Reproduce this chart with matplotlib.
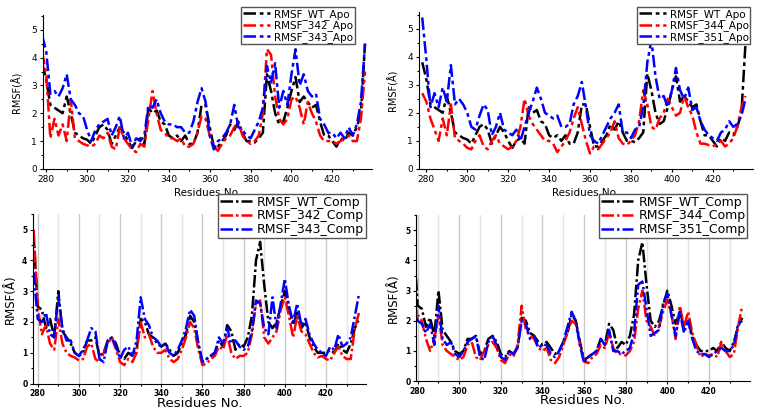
import numpy as np
import matplotlib
matplotlib.use("Agg")
import matplotlib.pyplot as plt
from matplotlib.ticker import MultipleLocator

# residue numbers (every second residue)
residues = np.arange(278, 437, 2)

wt_apo = [3.8, 3.2, 2.3, 2.2, 2.1, 2.0, 2.6, 2.0, 1.3, 1.2,
          1.1, 1.05, 0.9, 1.2, 1.5, 1.6, 1.4, 0.9, 1.2, 1.5,
          1.3, 1.0, 0.75, 1.0, 1.1, 0.9, 2.2, 2.0, 2.1, 1.7,
          1.6, 1.2, 1.1, 1.2, 1.0, 1.2, 0.9, 0.9, 1.3, 2.3,
          2.3, 1.5, 0.8, 0.8, 1.0, 1.2, 1.6, 1.4, 1.7, 1.3,
          1.0, 1.0, 0.95, 1.1, 1.3, 3.4, 2.8, 2.0, 1.6, 1.7,
          2.2, 2.8, 3.3, 2.4, 2.6, 2.4, 2.2, 2.3, 1.7, 1.2,
          1.2, 1.0, 0.8, 1.1, 1.0, 1.3, 1.2, 1.5, 2.0, 4.5]
mut342_apo = [4.2, 3.4, 1.1, 1.8, 1.2, 1.6, 1.0, 2.5, 1.1, 1.0,
              0.9, 0.85, 0.8, 0.9, 1.2, 1.1, 1.3, 0.8, 0.7, 1.5,
              1.1, 0.9, 0.7, 0.6, 0.9, 0.8, 1.8, 2.8, 2.0, 1.4,
              1.3, 1.1, 1.1, 1.0, 1.1, 0.8, 0.8, 0.9, 1.3, 1.9,
              1.8, 1.2, 0.8, 0.65, 0.9, 1.1, 1.2, 1.5, 1.7, 1.2,
              1.0, 0.9, 1.0, 1.2, 2.0, 4.3, 4.1, 2.6, 1.8, 1.6,
              1.8, 2.5, 2.6, 2.2, 1.6, 2.4, 2.0, 1.7, 1.2, 1.0,
              1.0, 1.0, 0.9, 1.0, 1.1, 1.2, 1.0, 1.0, 1.8, 3.5]
mut343_apo = [4.8, 4.2, 2.7, 2.8, 2.6, 2.9, 3.4, 2.5, 2.3, 2.0,
              1.9, 1.4, 1.0, 1.4, 1.6, 1.7, 1.8, 1.2, 1.5, 1.9,
              1.1, 1.3, 0.8, 1.1, 1.0, 1.2, 2.3, 2.2, 2.5, 2.0,
              1.7, 1.6, 1.6, 1.5, 1.5, 1.3, 1.3, 1.7, 2.4, 2.9,
              2.4, 1.2, 0.7, 1.0, 1.1, 1.3, 1.6, 2.3, 1.5, 1.4,
              1.2, 1.1, 1.4, 1.7, 2.2, 3.7, 3.1, 3.8, 2.2, 2.8,
              2.3, 3.4, 4.3, 3.0, 3.4, 2.8, 2.6, 2.7, 1.8, 1.6,
              1.3, 1.3, 1.1, 1.3, 1.1, 1.5, 1.2, 1.6, 2.4, 4.5]
mut344_apo = [2.7, 2.4, 1.8, 1.4, 1.0, 1.8, 1.2, 2.3, 1.1, 1.0,
              0.9, 0.75, 0.7, 1.0, 1.2, 0.8, 0.7, 1.0, 1.2, 0.9,
              0.8, 0.7, 0.8, 1.0, 1.5, 2.5, 1.9, 1.6, 1.4, 1.2,
              1.0, 1.0, 0.9, 0.6, 0.8, 1.0, 1.3, 1.8, 2.2, 1.6,
              1.0, 0.55, 0.8, 0.7, 0.9, 1.1, 1.3, 1.7, 1.1, 0.9,
              0.85, 1.0, 1.2, 1.7, 2.8, 2.3, 1.5, 1.4, 1.8, 2.0,
              2.5, 2.2, 1.9, 2.0, 2.6, 2.2, 1.9, 1.3, 0.9, 0.9,
              0.85, 0.8, 0.9, 1.0, 0.8, 0.9, 1.1, 1.5, 2.2, 2.6]
mut351_apo = [5.4, 3.9, 2.2, 2.7, 2.2, 2.9, 2.4, 3.7, 2.3, 2.5,
              2.3, 2.0, 1.5, 1.4, 1.9, 2.3, 2.1, 1.2, 1.5, 2.0,
              1.4, 1.3, 1.2, 1.4, 1.0, 1.5, 2.0, 2.4, 2.9, 2.5,
              2.0, 1.9, 1.8, 1.9, 1.5, 1.5, 1.6, 2.3, 2.6, 3.1,
              2.2, 1.2, 1.0, 0.9, 1.2, 1.5, 1.8, 2.0, 2.3, 1.3,
              1.3, 1.1, 1.4, 1.5, 2.2, 3.8, 4.6, 3.3, 2.5, 2.6,
              2.2, 2.8, 3.6, 2.8, 2.5, 2.9, 2.1, 2.2, 1.7, 1.4,
              1.2, 1.1, 1.0, 1.3, 1.4, 1.7, 1.5, 1.6, 1.9, 2.5]

wt_comp = [4.8, 2.5, 2.4, 1.8, 2.1, 1.5, 3.0, 1.7, 1.5, 1.3,
           1.0, 0.9, 1.0, 1.4, 1.4, 1.5, 0.9, 1.0, 1.4, 1.5,
           1.3, 0.9, 0.8, 1.0, 0.9, 1.1, 2.1, 2.0, 1.6, 1.5,
           1.3, 1.2, 1.3, 1.1, 0.9, 1.0, 1.3, 1.6, 2.2, 2.0,
           1.3, 0.7, 0.8, 0.9, 1.0, 1.4, 1.2, 1.9, 1.7, 1.1,
           1.3, 1.2, 1.5, 2.2, 4.0, 4.6, 3.2, 2.0, 1.8, 2.0,
           2.5, 3.0, 2.5, 1.9, 2.3, 1.8, 2.0, 1.5, 1.2, 1.0,
           1.0, 1.0, 1.1, 1.0, 1.3, 1.1, 1.0, 1.3, 1.8, 2.1]
mut342_comp = [5.0, 2.5, 1.6, 1.9, 1.3, 1.1, 2.1, 1.3, 1.0, 0.9,
               0.85, 0.75, 0.8, 1.2, 1.3, 0.8, 0.7, 1.0, 1.3, 1.5,
               1.1, 0.7, 0.6, 0.8, 0.7, 1.0, 2.0, 1.5, 1.6, 1.2,
               1.0, 1.0, 1.1, 0.8, 0.7, 0.8, 1.1, 1.5, 2.0, 1.8,
               1.1, 0.6, 0.65, 0.8, 0.9, 1.2, 1.1, 1.6, 1.0, 0.8,
               0.9, 0.9, 1.0, 1.6, 2.6, 2.7, 1.5, 1.3, 1.5, 1.7,
               2.4, 2.8, 2.2, 1.5, 2.2, 1.7, 1.6, 1.3, 1.0, 0.85,
               0.9, 0.8, 0.75, 1.0, 1.2, 0.9, 0.8, 0.8, 1.8, 2.3]
mut343_comp = [3.6, 2.1, 2.0, 2.3, 1.6, 1.5, 2.8, 1.8, 1.4, 1.4,
               1.0, 0.9, 1.1, 1.4, 1.8, 1.7, 0.8, 0.7, 1.4, 1.5,
               1.2, 0.8, 1.1, 1.2, 0.9, 1.4, 2.8, 2.1, 1.9, 1.5,
               1.4, 1.2, 1.3, 1.0, 0.9, 1.1, 1.4, 1.8, 2.4, 2.2,
               1.3, 0.7, 0.8, 0.9, 1.0, 1.5, 1.3, 1.8, 1.3, 1.4,
               1.2, 1.1, 1.2, 1.7, 2.7, 2.6, 1.8, 1.6, 2.8, 1.8,
               2.6, 3.4, 2.5, 2.0, 2.6, 1.9, 2.1, 1.6, 1.3, 1.1,
               1.0, 0.9, 1.2, 1.1, 1.6, 1.2, 1.3, 1.5, 2.2, 2.9]
mut344_comp = [2.7, 2.2, 2.0, 1.4, 1.0, 1.4, 2.2, 1.2, 1.0, 0.9,
               0.8, 0.7, 0.8, 1.2, 1.3, 0.8, 0.7, 1.0, 1.2, 1.3,
               1.1, 0.7, 0.6, 0.9, 0.8, 1.2, 2.5, 1.7, 1.5, 1.4,
               1.1, 1.0, 1.1, 0.7, 0.6, 0.8, 1.2, 1.6, 2.0, 1.9,
               1.2, 0.65, 0.6, 0.8, 0.9, 1.2, 1.1, 1.6, 1.1, 0.9,
               0.9, 0.85, 1.0, 1.3, 2.4, 3.0, 2.0, 1.8, 1.5, 1.8,
               2.3, 2.7, 2.2, 1.4, 2.5, 1.8, 2.3, 1.6, 1.2, 0.8,
               0.9, 0.85, 0.9, 0.8, 1.3, 1.0, 0.8, 0.9, 1.8, 2.5]
mut351_comp = [2.8, 2.0, 1.9, 1.6, 1.9, 1.2, 2.5, 1.4, 1.2, 1.3,
               0.9, 0.8, 1.0, 1.3, 1.4, 1.5, 0.8, 0.7, 1.3, 1.5,
               1.2, 0.8, 0.7, 1.0, 0.9, 1.1, 2.0, 1.9, 1.4, 1.5,
               1.1, 1.2, 1.2, 0.9, 0.8, 1.0, 1.3, 1.8, 2.3, 2.0,
               1.2, 0.6, 0.8, 0.9, 1.0, 1.4, 1.2, 1.7, 1.0, 1.0,
               0.9, 1.0, 1.1, 1.6, 3.2, 3.3, 2.4, 1.5, 1.6, 1.7,
               2.6, 2.9, 2.2, 1.5, 2.3, 1.6, 2.0, 1.4, 1.0, 0.9,
               0.9, 0.8, 0.9, 1.0, 1.1, 1.0, 1.0, 1.2, 1.9, 2.0]

colors = ["black", "#ff0000", "#0000ff"]
apo_style = (0, (5, 1.5, 1.5, 1.5))
comp_style = (0, (5, 1.2, 1, 1.2))

fig = plt.figure(figsize=(7.58, 4.09), dpi=100)


def draw_panel(rect, xlim, ylim, series, labels, ls, legend_box, bottom_row):
    ax = fig.add_axes(rect)
    for vals, lab, c in zip(series, labels, colors):
        ax.plot(residues, vals, color=c, ls=ls, lw=1.8, label=lab)
    ax.set_xlim(*xlim)
    ax.set_ylim(*ylim)
    ax.xaxis.set_major_locator(MultipleLocator(20))
    ax.xaxis.set_minor_locator(MultipleLocator(10))
    ax.yaxis.set_major_locator(MultipleLocator(1))
    ax.yaxis.set_minor_locator(MultipleLocator(0.5))
    ax.spines["top"].set_visible(False)
    ax.spines["right"].set_visible(False)
    ax.tick_params(which="both", direction="out", length=2.5, width=0.8)
    ax.tick_params(which="minor", length=1.5)
    if bottom_row:
        for xv in range(280, 440, 10):
            shade = "#c8c8c8" if xv % 20 == 0 else "#e4e4e4"
            ax.axvline(xv, color=shade, lw=1, zorder=0)
        for lab in ax.get_xticklabels() + ax.get_yticklabels():
            lab.set_fontweight("bold")
        ax.tick_params(labelsize=5.5, pad=1.5)
        ax.set_xlabel("Residues No.", fontsize=9.5, labelpad=-1)
        ax.set_ylabel("RMSF(Å)", fontsize=8.5, labelpad=4)
        fs = 9
    else:
        ax.tick_params(labelsize=6.5, pad=2)
        ax.set_xlabel("Residues No.", fontsize=7.5, labelpad=3)
        ax.set_ylabel("RMSF(Å)", fontsize=7, labelpad=6)
        fs = 7.5
    ax.legend(loc="upper right", bbox_to_anchor=legend_box,
              bbox_transform=fig.transFigure, fontsize=fs, frameon=True,
              fancybox=False, edgecolor="#555555", framealpha=1,
              handlelength=2.6, borderpad=0.15, labelspacing=0.05,
              handletextpad=0.4, borderaxespad=0)
    return ax


draw_panel([0.057, 0.587, 0.434, 0.377], (278.5, 439.5), (0, 5.54),
           [wt_apo, mut342_apo, mut343_apo],
           ["RMSF_WT_Apo", "RMSF_342_Apo", "RMSF_343_Apo"],
           apo_style, (0.468, 0.982), False)
draw_panel([0.553, 0.587, 0.44, 0.384], (276.5, 439.5), (0, 5.6),
           [wt_apo, mut344_apo, mut351_apo],
           ["RMSF_WT_Apo", "RMSF_344_Apo", "RMSF_351_Apo"],
           apo_style, (0.99, 0.982), False)
draw_panel([0.0435, 0.062, 0.4396, 0.4145], (277.7, 439.5), (0, 5.5),
           [wt_comp, mut342_comp, mut343_comp],
           ["RMSF_WT_Comp", "RMSF_342_Comp", "RMSF_343_Comp"],
           comp_style, (0.483, 0.526), True)
draw_panel([0.5488, 0.068, 0.44, 0.406], (279.2, 439.5), (0, 5.5),
           [wt_comp, mut344_comp, mut351_comp],
           ["RMSF_WT_Comp", "RMSF_344_Comp", "RMSF_351_Comp"],
           comp_style, (0.986, 0.526), True)

plt.savefig("out.png", dpi=100)
